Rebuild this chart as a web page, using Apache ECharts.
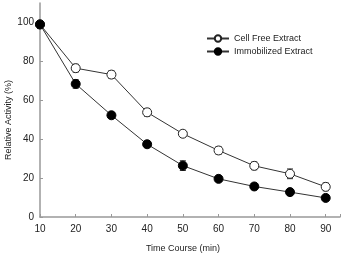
<!DOCTYPE html>
<html>
<head>
<meta charset="utf-8">
<script src="https://cdn.jsdelivr.net/npm/echarts@6/dist/echarts.min.js"></script>
<style>
  html, body { margin: 0; padding: 0; background: #fff; }
  #main { width: 342px; height: 254px; }
</style>
</head>
<body>
<div id="main"></div>
<script>
  // time points (min)
  const times = [10, 20, 30, 40, 50, 60, 70, 80, 90];
  // relative activity (%)
  const cellFree = [99, 76.5, 73.2, 53.8, 42.8, 34.2, 26.3, 22.2, 15.5];
  const cellFreeErr = [2, 2, 2, 2, 1.5, 2, 2, 2.5, 2];
  const immobilized = [99, 68.4, 52.3, 37.4, 26.4, 19.6, 15.7, 12.8, 9.8];
  const immobilizedErr = [2, 2.2, 1.5, 1.5, 2.5, 1.5, 1.5, 1.5, 1.5];

  const myChart = echarts.init(document.getElementById('main'));

  const font = 'Liberation Sans, Arial, sans-serif';

  // error bars drawn through the axis scales
  function errSeries(vals, errs) {
    return {
      type: 'custom',
      silent: true,
      z: 1,
      data: times.map((t, i) => [t, vals[i] - errs[i], vals[i] + errs[i]]),
      renderItem: function (params, api) {
        const lo = api.coord([api.value(0), api.value(1)]);
        const hi = api.coord([api.value(0), api.value(2)]);
        const w = 3;
        const st = { stroke: '#333', lineWidth: 1 };
        return {
          type: 'group',
          children: [
            { type: 'line', shape: { x1: lo[0], y1: lo[1], x2: hi[0], y2: hi[1] }, style: st },
            { type: 'line', shape: { x1: lo[0] - w, y1: lo[1], x2: lo[0] + w, y2: lo[1] }, style: st },
            { type: 'line', shape: { x1: hi[0] - w, y1: hi[1], x2: hi[0] + w, y2: hi[1] }, style: st }
          ]
        };
      }
    };
  }

  const option = {
    animation: false,
    grid: { left: 40, right: 2, top: 3, bottom: 37, outerBoundsMode: 'none', containLabel: false },
    legend: {
      left: 201,
      top: 29,
      orient: 'vertical',
      itemWidth: 22,
      itemHeight: 8,
      itemGap: 4,
      textStyle: { fontFamily: font, fontSize: 9, color: '#222' },
      data: ['Cell Free Extract', 'Immobilized Extract']
    },
    xAxis: {
      type: 'value',
      min: 10,
      max: 94,
      interval: 10,
      name: 'Time Course (min)',
      nameLocation: 'middle',
      nameGap: 27,
      nameMoveOverlap: false,
      nameTextStyle: { fontFamily: font, fontSize: 9, color: '#222', padding: [0, 14, 0, 0] },
      axisLine: { lineStyle: { color: '#999', width: 1.5 } },
      axisTick: { inside: true, length: 3, lineStyle: { color: '#999' } },
      axisLabel: {
        fontFamily: font, fontSize: 10, color: '#222', margin: 7,
        formatter: v => (v <= 90 ? v : '')
      },
      splitLine: { show: false }
    },
    yAxis: {
      type: 'value',
      min: 0,
      max: 110,
      interval: 20,
      name: 'Relative Activity (%)',
      nameLocation: 'middle',
      nameGap: 27,
      nameMoveOverlap: false,
      nameTextStyle: { fontFamily: font, fontSize: 9, color: '#222', padding: [0, 20, 0, 0] },
      axisLine: { show: true, lineStyle: { color: '#999', width: 1.5 } },
      axisTick: { show: true, inside: true, length: 3, lineStyle: { color: '#999' } },
      axisLabel: {
        fontFamily: font, fontSize: 10, color: '#222', margin: 6,
        showMaxLabel: false,
        formatter: v => (v <= 100 ? v : '')
      },
      splitLine: { show: false }
    },
    series: [
      errSeries(cellFree, cellFreeErr),
      errSeries(immobilized, immobilizedErr),
      {
        name: 'Cell Free Extract',
        type: 'line',
        data: times.map((t, i) => [t, cellFree[i]]),
        symbol: 'circle',
        symbolSize: 9,
        z: 3,
        lineStyle: { color: '#333', width: 1 },
        itemStyle: { color: '#fff', borderColor: '#222', borderWidth: 1 }
      },
      {
        name: 'Immobilized Extract',
        type: 'line',
        data: times.map((t, i) => [t, immobilized[i]]),
        symbol: 'circle',
        symbolSize: 9,
        z: 3,
        lineStyle: { color: '#333', width: 1 },
        itemStyle: { color: '#000', borderColor: '#000', borderWidth: 1 }
      }
    ]
  };

  myChart.setOption(option);
</script>
</body>
</html>
